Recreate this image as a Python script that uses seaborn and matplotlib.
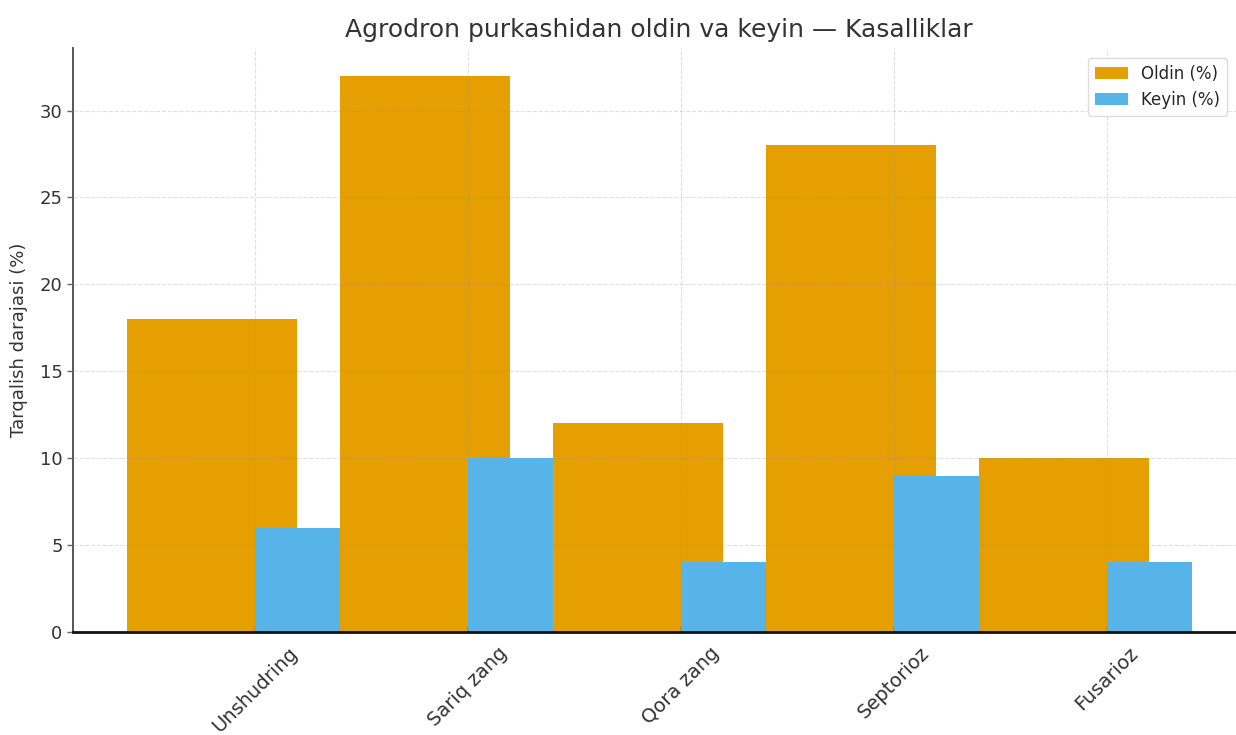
import numpy as np
import pandas as pd
import matplotlib
matplotlib.use("Agg")
import matplotlib.pyplot as plt
import seaborn as sns

# Disease prevalence before and after drone spraying
diseases = ["Unshudring", "Sariq zang", "Qora zang", "Septorioz", "Fusarioz"]
before_pct = [18, 32, 12, 28, 10]
after_pct = [6, 10, 4, 9, 4]
legend_labels = ["Oldin (%)", "Keyin (%)"]

title = "Agrodron purkashidan oldin va keyin — Kasalliklar"
ylabel = "Tarqalish darajasi (%)"

color_before = "#E69F00"
color_after = "#56B4E9"

sns.set_theme(style="white")
plt.rcParams["font.family"] = ["DejaVu Sans"]

idx = np.arange(len(diseases))
df_before = pd.DataFrame({"pos": idx - 0.2, "value": before_pct})
df_after = pd.DataFrame({"pos": idx + 0.2, "value": after_pct})

fig = plt.figure(figsize=(12.36, 7.35), dpi=100)
ax = fig.add_axes([73 / 1236, 1 - 632 / 735, (1245 - 73) / 1236, (632 - 48) / 735])

sns.barplot(data=df_before, x="pos", y="value", native_scale=True, width=0.8,
            color=color_before, saturation=1, linewidth=0, label=legend_labels[0],
            ax=ax, zorder=2)
sns.barplot(data=df_after, x="pos", y="value", native_scale=True, width=0.4,
            color=color_after, saturation=1, linewidth=0, label=legend_labels[1],
            ax=ax, zorder=3)

ax.set_xlim(-0.854, 4.65)
ax.set_ylim(0, 33.6)
ax.set_xticks(idx)
ax.set_xticklabels(diseases, rotation=45, ha="center", fontsize=14, color="#333333")
ax.set_yticks([0, 5, 10, 15, 20, 25, 30])
ax.tick_params(axis="y", labelsize=13, labelcolor="#333333", left=True,
               length=4, width=1, color="#666666")
ax.tick_params(axis="x", bottom=True, direction="in", length=4, width=1,
               color="#222222", pad=8)

ax.set_xlabel("")
ax.set_ylabel(ylabel, fontsize=13, color="#333333", labelpad=8)
ax.set_title(title, fontsize=18, color="#333333", pad=8)

ax.grid(True, linestyle="--", linewidth=0.8, color="#999999", alpha=0.3, zorder=4)
ax.set_axisbelow(False)

for side in ["top", "right"]:
    ax.spines[side].set_visible(False)
ax.spines["left"].set_color("#555555")
ax.spines["left"].set_linewidth(1.4)
ax.spines["bottom"].set_color("#111111")
ax.spines["bottom"].set_linewidth(2.0)
ax.spines["bottom"].set_zorder(6)

ax.legend(loc="upper right", bbox_to_anchor=((1227 - 73) / 1172, (632 - 58) / 584),
          borderaxespad=0, fontsize=12, frameon=True, edgecolor="#dddddd",
          fancybox=True, framealpha=1)

fig.savefig("out.png", dpi=100)
